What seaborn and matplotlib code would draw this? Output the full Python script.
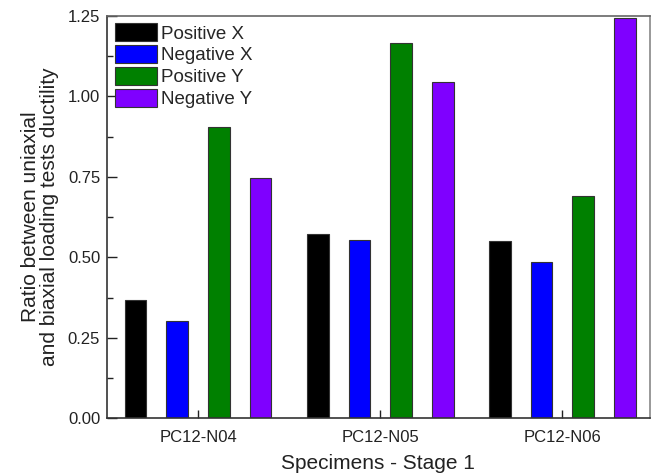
import numpy as np
import pandas as pd
import matplotlib
matplotlib.use("Agg")
import matplotlib.pyplot as plt
import seaborn as sns
from matplotlib.ticker import MultipleLocator

specimens = ["PC12-N04", "PC12-N05", "PC12-N06"]
series = ["Positive X", "Negative X", "Positive Y", "Negative Y"]
positive_x = [0.366, 0.573, 0.552]
negative_x = [0.302, 0.553, 0.486]
positive_y = [0.904, 1.165, 0.690]
negative_y = [0.747, 1.043, 1.243]
colors = ["#000000", "#0000FF", "#008000", "#7F00FF"]

df = pd.DataFrame({
    "Specimen": specimens * 4,
    "Series": [s for s in series for _ in specimens],
    "Ratio": positive_x + negative_x + positive_y + negative_y,
})

sns.set_theme(style="white")
plt.rcParams["font.family"] = ["Liberation Sans", "DejaVu Sans"]

fig = plt.figure(figsize=(6.57, 4.76), dpi=100)
ax = fig.add_axes([0.163, 0.121, 0.826, 0.846])

sns.barplot(data=df, x="Specimen", y="Ratio", hue="Series", order=specimens,
            hue_order=series, palette=colors, width=0.915, gap=0.48,
            edgecolor="#333333", linewidth=0.8, saturation=1, ax=ax,
            errorbar=None)

ax.set_xlim(-0.5, 2.48)
ax.set_ylim(0, 1.25)
ax.yaxis.set_major_locator(MultipleLocator(0.25))
ax.yaxis.set_minor_locator(MultipleLocator(0.125))
ax.yaxis.set_major_formatter(matplotlib.ticker.FormatStrFormatter("%.2f"))
ax.tick_params(axis="y", which="major", direction="in", length=7, width=1,
               labelsize=12, colors="#222222", left=True, pad=5)
ax.tick_params(axis="y", which="minor", direction="in", length=4, width=1,
               left=True, color="#222222")
ax.tick_params(axis="x", which="major", direction="in", length=6, width=1,
               labelsize=12, colors="#222222", bottom=True, pad=8)

for side, sp in ax.spines.items():
    sp.set_visible(True)
    sp.set_color("#333333")
    sp.set_linewidth(1.2)
ax.spines["top"].set_color("#666666")
ax.spines["right"].set_color("#888888")

ax.set_xlabel("Specimens - Stage 1", fontsize=15, labelpad=7, color="#222222")
ax.set_ylabel("Ratio between uniaxial\nand biaxial loading tests ductility",
              fontsize=15, labelpad=6, color="#222222", linespacing=1.0)

leg = ax.legend(loc="upper left", frameon=False, fontsize=13.5,
                handlelength=2.25, handleheight=1.1, labelspacing=0.13,
                handletextpad=0.2, borderaxespad=0.2, borderpad=0.2)
for h in leg.legend_handles:
    h.set_edgecolor("#333333")

fig.savefig("out.png", dpi=100)
